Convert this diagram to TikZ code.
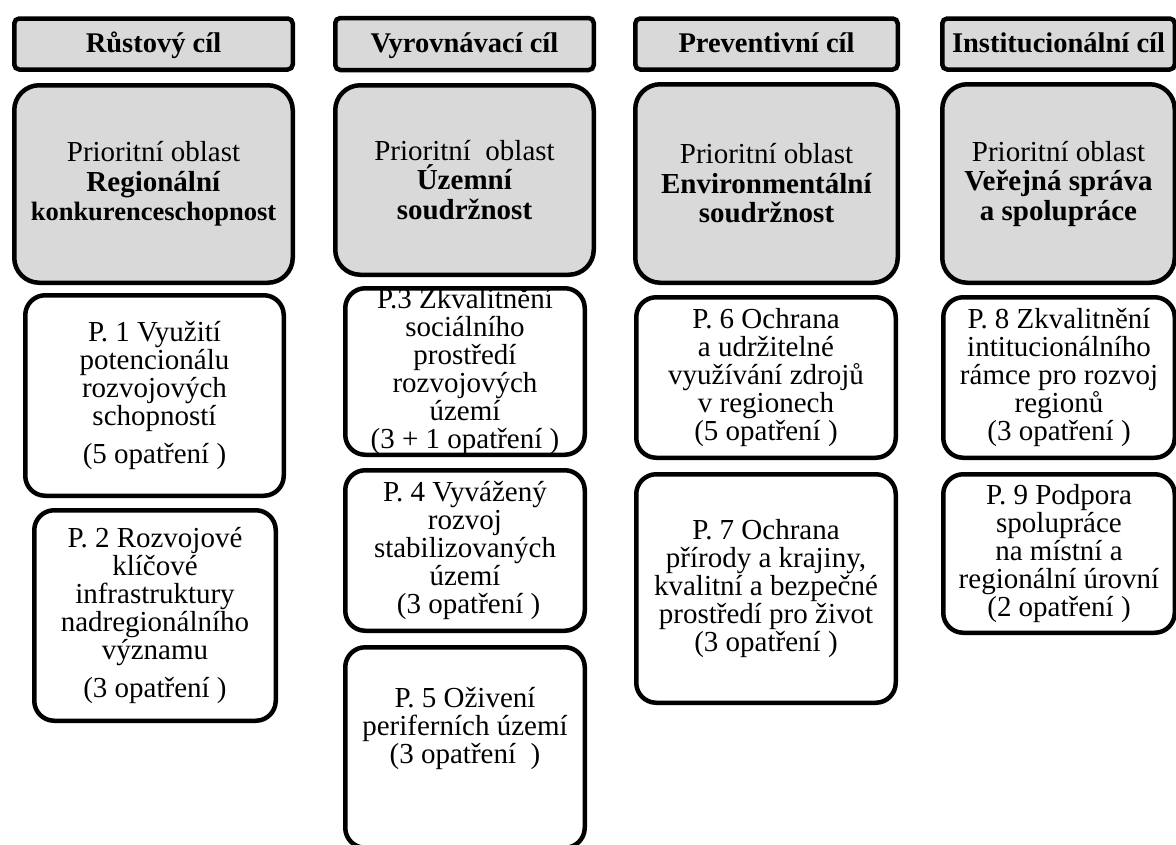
\documentclass[tikz,border=0pt]{standalone}
\usepackage{fontspec}
\setmainfont{Liberation Serif}
\definecolor{boxgray}{RGB}{217,217,217}
\tikzset{
  boxbase/.style={draw=black, line width=4.5pt, align=center, inner sep=0pt,
    font=\fontsize{29}{28}\selectfont},
  hdr/.style={boxbase, fill=boxgray, rounded corners=5pt, text height=23pt, text depth=6pt,
    font=\fontsize{28.5}{28}\selectfont\bfseries},
  prio/.style={boxbase, fill=boxgray, rounded corners=25pt,
    font=\fontsize{29}{29.5}\selectfont},
  pbox/.style={boxbase, fill=white, rounded corners=20pt},
}
\begin{document}
\begin{tikzpicture}[x=1pt,y=-1pt]
\path[use as bounding box] (0,0) rectangle (1176,844);
\clip (0,0) rectangle (1176,844);

% headers
\node[hdr, minimum width=278.5pt, minimum height=51pt] (h1) at (153.5,44) {Růstový cíl};
\node[hdr, minimum width=258.5pt, minimum height=52pt] (h2) at (464.5,44) {Vyrovnávací cíl};
\node[hdr, minimum width=262.5pt, minimum height=51pt] (h3) at (766.5,44) {Preventivní cíl};
\node[hdr, minimum width=232.5pt, minimum height=51pt] (h4) at (1058.5,44) {Institucionální cíl};

% priority areas
\node[prio, minimum width=278.5pt, minimum height=197.5pt] (a1) at (153.5,184)
  {Prioritní oblast\\\textbf{Regionální}\\{\fontsize{26.5}{29}\selectfont\bfseries konkurenceschopnost}};
\node[prio, minimum width=258.5pt, minimum height=189.5pt] (a2) at (464.5,180)
  {Prioritní~ oblast\\\textbf{Územní}\\\textbf{soudržnost}};
\node[prio, minimum width=262.5pt, minimum height=198.5pt] (a3) at (766.5,183.5)
  {Prioritní oblast\\\textbf{Environmentální}\\\textbf{soudržnost}};
\node[prio, minimum width=232.5pt, minimum height=198.5pt] (a4) at (1058.5,183.5)
  {Prioritní oblast\\\textbf{Veřejná správa}\\\textbf{a spolupráce}};

% priorities
\node[pbox, minimum width=258.5pt, minimum height=200.5pt] (p1) at (154.5,395.5)
  {P. 1 Využití\\potencionálu\\rozvojových\\schopností\\[10pt](5 opatření )};
\node[pbox, minimum width=241.5pt, minimum height=210.5pt] (p2) at (155,615.5)
  {P. 2 Rozvojové\\klíčové\\infrastruktury\\nadregionálního\\významu\\[10pt](3 opatření )};
\node[pbox, minimum width=239.5pt, minimum height=166.5pt] (p3) at (465,371.5)
  {P.3 Zkvalitnění\\sociálního\\prostředí\\rozvojových\\území\\(3 + 1 opatření )};
\node[pbox, minimum width=239.5pt, minimum height=160.5pt] (p4) at (465,550.5)
  {P. 4 Vyvážený\\rozvoj\\stabilizovaných\\území\\~(3 opatření )};
\node[pbox, minimum width=239.5pt, minimum height=200.5pt, text depth=45pt] (p5) at (465,747.5)
  {P. 5 Oživení\\periferních území\\(3 opatření~ )};
\node[pbox, minimum width=259.5pt, minimum height=160.5pt] (p6) at (766,377.5)
  {P. 6 Ochrana\\a udržitelné\\využívání zdrojů\\v regionech\\(5 opatření )};
\node[pbox, minimum width=259.5pt, minimum height=228.5pt] (p7) at (766,588.5)
  {P. 7 Ochrana\\přírody a krajiny,\\kvalitní a bezpečné\\prostředí pro život\\(3 opatření )};
\node[pbox, minimum width=231.5pt, minimum height=160.5pt] (p8) at (1059,377.5)
  {P. 8 Zkvalitnění\\intitucionálního\\rámce pro rozvoj\\regionů\\(3 opatření )};
\node[pbox, minimum width=231.5pt, minimum height=158.5pt] (p9) at (1059,553.5)
  {P. 9 Podpora\\spolupráce\\na místní a\\regionální úrovní\\(2 opatření )};
\end{tikzpicture}
\end{document}
